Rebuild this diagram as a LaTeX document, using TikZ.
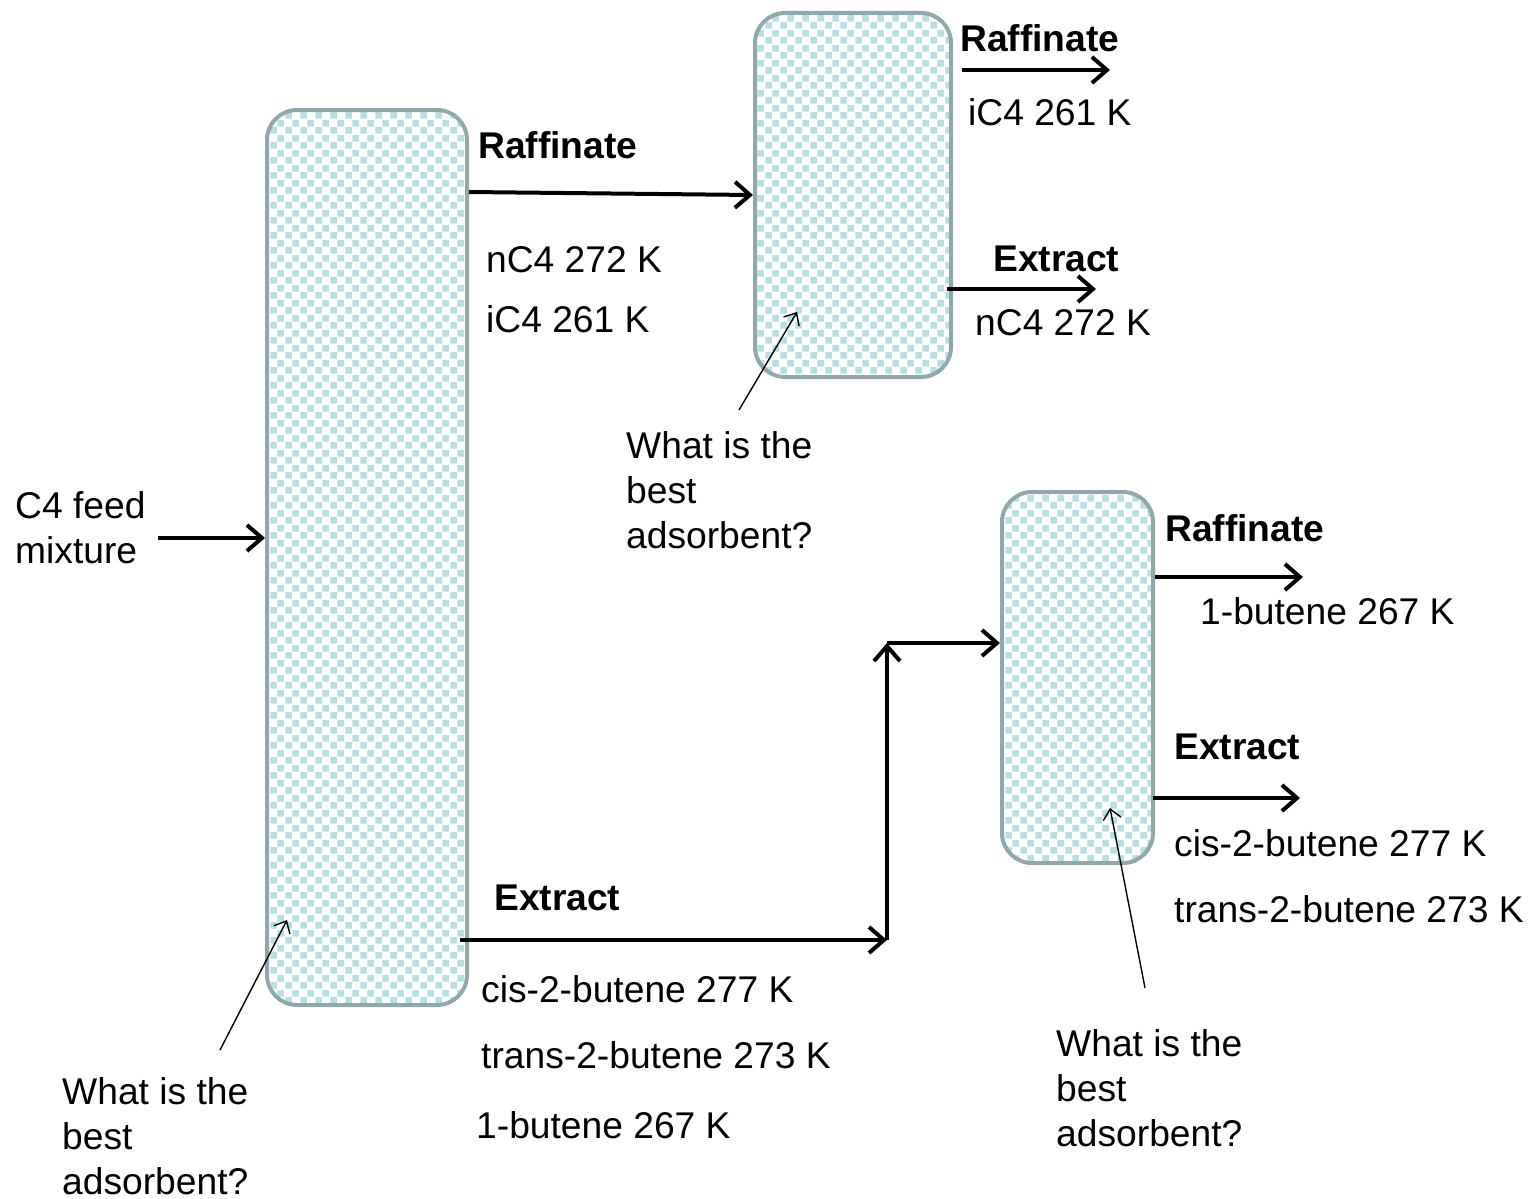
\documentclass[tikz,border=0pt]{standalone}
\usepackage{fontspec}
\setmainfont{Liberation Sans}
\usetikzlibrary{arrows.meta,patterns}

% checkerboard fill for the adsorbent beds
\pgfdeclarepatternformonly{bedcheck}{\pgfpointorigin}{\pgfqpoint{15pt}{15pt}}{\pgfqpoint{15pt}{15pt}}{%
  \pgfpathrectangle{\pgfqpoint{0.4pt}{0.4pt}}{\pgfqpoint{6.8pt}{6.8pt}}%
  \pgfpathrectangle{\pgfqpoint{7.9pt}{7.9pt}}{\pgfqpoint{6.8pt}{6.8pt}}%
  \pgfusepath{fill}}

\definecolor{bedborder}{HTML}{8FA9AA}
\definecolor{bedfill}{HTML}{B6DFE3}

\tikzset{
  bed/.style={draw=bedborder, line width=4pt, rounded corners=30pt,
    pattern=bedcheck, pattern color=bedfill, inner sep=0pt},
  flow/.style={line width=4pt, -{Straight Barb[length=15pt,width=26pt]}},
  pointer/.style={line width=1.4pt, -{Straight Barb[length=10pt,width=18pt]}},
  lbl/.style={font=\fontsize{37.2}{45}\selectfont, inner sep=0pt, anchor=base west, align=left},
  hdr/.style={lbl, font=\fontsize{37.2}{45}\selectfont\bfseries},
}

\begin{document}
\begin{tikzpicture}[x=1pt,y=-1pt]
\useasboundingbox (0,0) rectangle (1531,1199);

% adsorbent columns
\node[bed, minimum width=200pt, minimum height=895pt] (col1) at (367,557.5) {};
\node[bed, minimum width=196pt, minimum height=364pt] (col2) at (853,195) {};
\node[bed, minimum width=151pt, minimum height=371pt] (col3) at (1077.5,677.5) {};

% feed
\node[lbl] (feed) at (15,563) {C4 feed\\mixture};
\coordinate (feedstart) at (158,538);
\draw[flow] (feedstart) -- (col1.west |- feedstart);

% first column: raffinate to second column
\node[hdr] (raf1) at (478,158) {Raffinate};
\node[lbl] (raf1a) at (486,272) {nC4 272 K};
\node[lbl] (raf1b) at (486,332) {iC4 261 K};
\draw[flow] (col1.east |- 0,192) -- (col2.west |- 0,195);

% first column: extract to third column
\node[hdr] (ext1) at (494,910) {Extract};
\node[lbl] (ext1a) at (481,1002) {cis-2-butene 277 K};
\node[lbl] (ext1b) at (481,1068) {trans-2-butene 273 K};
\node[lbl] (ext1c) at (476,1138) {1-butene 267 K};
\coordinate (bend1) at (887,940);
\coordinate (bend2) at (887,643);
\draw[flow] (col1.east |- bend1) ++(-9,0) -- (bend1);
\draw[flow] (bend1) -- (bend2);
\draw[flow] (bend2) -- (col3.west |- bend2);

% second column products
\node[hdr] (raf2) at (960,52) {Raffinate};
\node[lbl] (raf2a) at (968,125) {iC4 261 K};
\coordinate (raf2end) at (1110,70);
\draw[flow] (col2.east |- raf2end) ++(9,0) -- (raf2end);
\node[hdr] (ext2) at (993,271) {Extract};
\node[lbl] (ext2a) at (975,335) {nC4 272 K};
\coordinate (ext2end) at (1096,289);
\draw[flow] (col2.east |- ext2end) ++(-6,0) -- (ext2end);

% third column products
\node[hdr] (raf3) at (1165,541) {Raffinate};
\node[lbl] (raf3a) at (1200,624) {1-butene 267 K};
\coordinate (raf3end) at (1303,577);
\draw[flow] (col3.east |- raf3end) -- (raf3end);
\node[hdr] (ext3) at (1174,759) {Extract};
\node[lbl] (ext3a) at (1174,856) {cis-2-butene 277 K};
\node[lbl] (ext3b) at (1174,922) {trans-2-butene 273 K};
\coordinate (ext3end) at (1300,798);
\draw[flow] (col3.east |- ext3end) ++(-2,0) -- (ext3end);

% questions about the adsorbent
\node[lbl] (q1) at (62,1194) {What is the\\best\\adsorbent?};
\coordinate (q1tail) at (220,1050);
\coordinate (q1tip) at (287,920);
\draw[pointer] (q1tail) -- (q1tip);

\node[lbl] (q2) at (626,548) {What is the\\best\\adsorbent?};
\coordinate (q2tail) at (739,410);
\coordinate (q2tip) at (797,312);
\draw[pointer] (q2tail) -- (q2tip);

\node[lbl] (q3) at (1056,1146) {What is the\\best\\adsorbent?};
\coordinate (q3tail) at (1145,988);
\coordinate (q3tip) at (1110,808);
\draw[pointer] (q3tail) -- (q3tip);
\end{tikzpicture}
\end{document}
